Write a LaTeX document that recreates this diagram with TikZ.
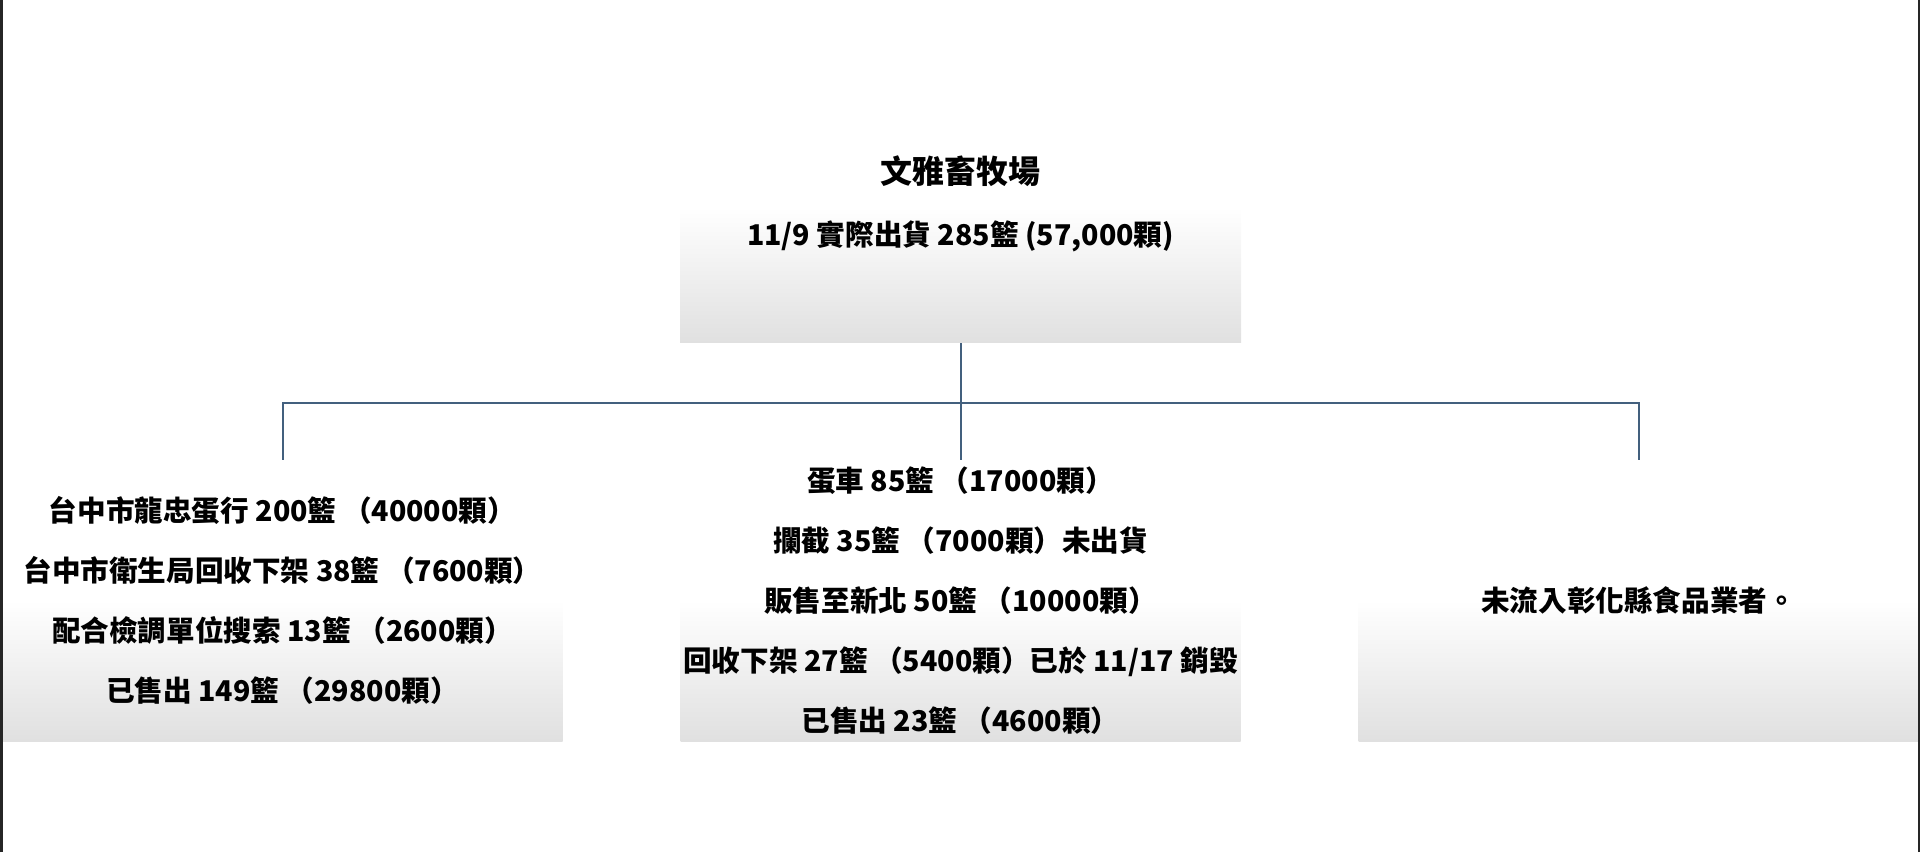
\documentclass[tikz,border=0pt]{standalone}
\usepackage{fontspec}
\setmainfont{Noto Sans CJK TC}
\usepackage{tikz}
\usetikzlibrary{positioning}
\definecolor{boxgray}{HTML}{E0E0E0}
\definecolor{linkblue}{HTML}{43607E}
\pgfdeclareverticalshading{leafshade}{100bp}{color(0bp)=(boxgray); color(25bp)=(boxgray); color(50bp)=(white); color(100bp)=(white)}
\tikzset
{
    farmbox/.style = {rectangle, top color=white, bottom color=boxgray, minimum width=561pt, minimum height=136pt, inner sep=0pt},
    leafbox/.style = {rectangle, shade, shading=leafshade, minimum width=560pt, minimum height=281pt, inner sep=0pt, align=center, font=\fontsize{28.6pt}{60pt}\selectfont\bfseries},
    titletext/.style = {inner sep=0pt, font=\fontsize{32pt}{38pt}\selectfont\bfseries},
    shiptext/.style = {inner sep=0pt, font=\fontsize{28.6pt}{34pt}\selectfont\bfseries},
    pageedge/.style = {line width=2.5pt, black!85}
}

\begin{document}
\begin{tikzpicture}
	[x=1pt, y=1pt,
	 level/.style={sibling distance=678pt, level distance=325.5pt},
	 edge from parent/.style={draw=linkblue, line width=2pt},
	 edge from parent path={(\tikzparentnode.south) -- ++(0,-60) -| (\tikzchildnode.north)}]
	\useasboundingbox (0,0) rectangle (1921,852);
	\node[farmbox] (farm) at (960.5,577) {}
	child{
		node[leafbox] (dealer) {台中市龍忠蛋行 200籃 （40000顆）\\
			台中市衛生局回收下架 38籃 （7600顆）\\
			配合檢調單位搜索 13籃 （2600顆）\\
			已售出 149籃 （29800顆）}
	}
	child{
		node[leafbox] (truck) {蛋車 85籃 （17000顆）\\
			攔截 35籃 （7000顆）未出貨\\
			販售至新北 50籃 （10000顆）\\
			回收下架 27籃 （5400顆）已於 11/17 銷毀\\
			已售出 23籃 （4600顆）}
	}
	child{
		node[leafbox] (local) {未流入彰化縣食品業者。}
	};
	\node[titletext, above=20pt of farm.north] (title) {文雅畜牧場};
	\node[shiptext, below=14pt of farm.north] (ship) {11/9 實際出貨 285籃 (57,000顆)};
	% page edges
	\draw[pageedge] (1.5,0) -- (1.5,852);
	\draw[pageedge] (1919,0) -- (1919,852);
\end{tikzpicture}
\end{document}
